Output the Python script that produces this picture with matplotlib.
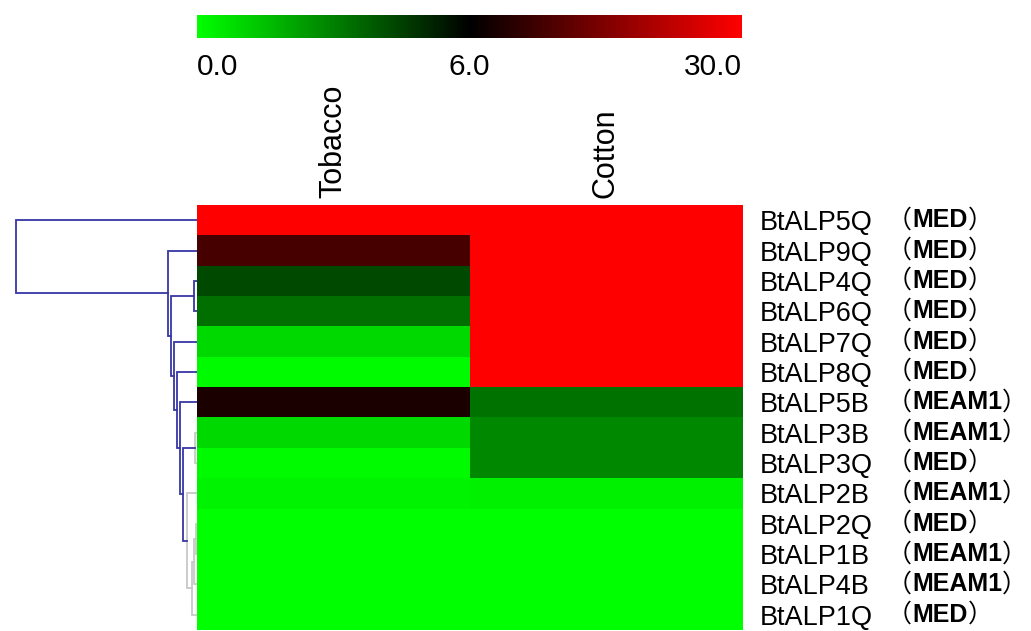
import numpy as np
import matplotlib
matplotlib.use('Agg')
import matplotlib.pyplot as plt
from matplotlib.colors import LinearSegmentedColormap, TwoSlopeNorm

# ---- data ----
genes = ['BtALP5Q', 'BtALP9Q', 'BtALP4Q', 'BtALP6Q', 'BtALP7Q', 'BtALP8Q', 'BtALP5B',
         'BtALP3B', 'BtALP3Q', 'BtALP2B', 'BtALP2Q', 'BtALP1B', 'BtALP4B', 'BtALP1Q']
groups = ['MED', 'MED', 'MED', 'MED', 'MED', 'MED', 'MEAM1',
          'MEAM1', 'MED', 'MEAM1', 'MED', 'MEAM1', 'MEAM1', 'MED']
hosts = ['Tobacco', 'Cotton']
tobacco = [30.0, 12.7, 4.3, 3.4, 0.9, 0.1, 8.6, 0.9, 0.1, 0.3, 0.0, 0.0, 0.0, 0.0]
cotton = [30.0, 30.0, 30.0, 30.0, 30.0, 30.0, 3.3, 2.8, 2.8, 0.35, 0.0, 0.0, 0.0, 0.0]
cbar_ticks = [0.0, 6.0, 30.0]
cbar_labels = ['0.0', '6.0', '30.0']

# row dendrogram: (child a, child b, height); ids >= 14 are earlier merges
merges = [(2, 3, 3), (7, 8, 2), (10, 11, 1), (16, 12, 3), (17, 13, 5),
          (9, 18, 10), (15, 19, 14), (6, 20, 17), (5, 21, 20), (4, 22, 23),
          (14, 23, 26), (1, 24, 29), (0, 25, 181)]
grey_links = {1, 2, 3, 4, 5}

W, H = 1031, 631
fig = plt.figure(figsize=(W / 100, H / 100), dpi=100)
ax = fig.add_axes([197 / W, 1 / H, 545 / W, 425 / H])
dax = fig.add_axes([15 / W, 1 / H, 182 / W, 425 / H], sharey=ax)
cax = fig.add_axes([197 / W, 1 - 38 / H, 545 / W, 23 / H])

cmap = LinearSegmentedColormap.from_list('gkr', ['#00ff00', '#000000', '#ff0000'])
norm = TwoSlopeNorm(vmin=0, vcenter=6, vmax=30)

values = np.column_stack([tobacco, cotton])
im = ax.imshow(values, cmap=cmap, norm=norm, aspect='auto', interpolation='nearest')
for s in ax.spines.values():
    s.set_visible(False)

ax.xaxis.tick_top()
ax.set_xticks(range(len(hosts)))
ax.set_xticklabels(hosts, rotation=90, fontsize=22, family='Liberation Sans')
ax.tick_params(axis='x', length=0, pad=5)

ax.yaxis.tick_right()
ax.set_yticks(range(len(genes)))
ax.set_yticklabels(genes, fontsize=19.5, family='Liberation Sans')
ax.tick_params(axis='y', length=0, pad=13)

# group labels: （ bold ）
for i, g in enumerate(groups):
    t1 = ax.annotate('（', xy=(1.266, i), xycoords=ax.get_yaxis_transform(),
                     ha='left', va='center', fontsize=18,
                     family='Noto Sans CJK SC', annotation_clip=False)
    t2 = ax.annotate(g, xy=(1, i), xycoords=(t1, 'data'), ha='left', va='center',
                     fontsize=18, fontweight='bold', family='Liberation Sans',
                     annotation_clip=False)
    ax.annotate('）', xy=(1, i), xycoords=(t2, 'data'), ha='left', va='center',
                fontsize=18, family='Noto Sans CJK SC', annotation_clip=False)

# dendrogram
n = len(genes)
pos = {i: (float(i), 0.0) for i in range(n)}
for k, (a, b, h) in enumerate(merges):
    ya, ha_ = pos[a]
    yb, hb = pos[b]
    col = '#c8c8c8' if k in grey_links else '#3636a6'
    dax.plot([ha_, h, h, hb], [ya, ya, yb, yb], color=col, lw=1.3,
             solid_joinstyle='miter')
    pos[n + k] = ((ya + yb) / 2, h)
dax.set_xlim(182, 0)
dax.axis('off')

# colour bar
cb = fig.colorbar(im, cax=cax, orientation='horizontal', ticks=cbar_ticks)
cb.outline.set_visible(False)
cax.set_xticklabels(cbar_labels, fontsize=21.5, family='Liberation Sans')
cax.tick_params(axis='x', length=0, pad=11)
labs = cax.get_xticklabels()
labs[0].set_ha('left')
labs[-1].set_ha('right')

fig.savefig('out.png', dpi=100)
